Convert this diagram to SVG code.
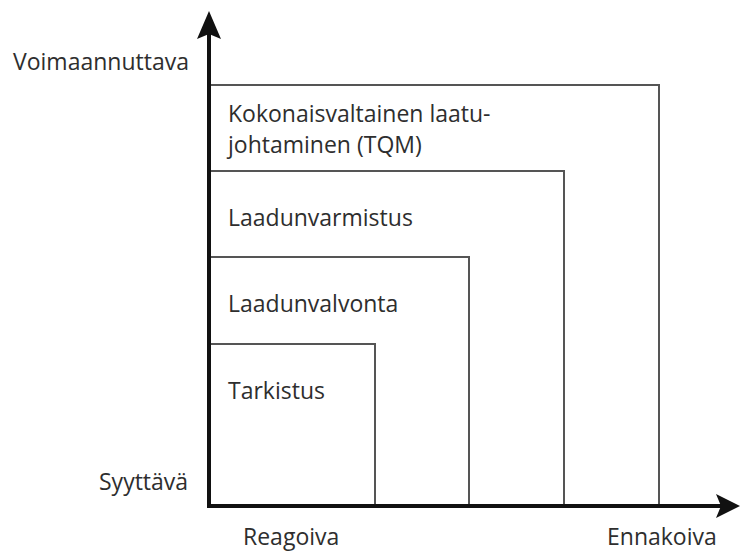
<svg xmlns="http://www.w3.org/2000/svg" width="741" height="554" viewBox="0 0 741 554">
<defs>
<style>
text{font-family:"Open Sans","Noto Sans","Liberation Sans",sans-serif;font-size:23px;fill:#2e2e2e}
.box{fill:none;stroke:#555;stroke-width:2}
.axis{stroke:#111;stroke-width:4;fill:none}
.head{fill:#111}
</style>
</defs>
<rect width="741" height="554" fill="#fff"/>
<g id="tqm"><polyline class="box" points="209,85 659,85 659,506"/>
<text x="228" y="122">Kokonaisvaltainen laatu-</text>
<text x="228" y="153">johtaminen (TQM)</text></g>
<g id="laadunvarmistus"><polyline class="box" points="209,171 564,171 564,506"/>
<text x="228" y="226">Laadunvarmistus</text></g>
<g id="laadunvalvonta"><polyline class="box" points="209,257 469,257 469,506"/>
<text x="228" y="312">Laadunvalvonta</text></g>
<g id="tarkistus"><polyline class="box" points="209,344 375,344 375,506"/>
<text x="228" y="399">Tarkistus</text></g>
<g id="connectors">
<line class="axis" x1="209" y1="30" x2="209" y2="508"/>
<polygon class="head" points="209,11 221,39 209,34 197,39"/>
<line class="axis" x1="207" y1="506" x2="726" y2="506"/>
<polygon class="head" points="740,506 716,494 721,506 716,518"/>
</g>
<g id="labels">
<text x="13" y="70">Voimaannuttava</text>
<text x="99" y="490">Syyttävä</text>
<text x="243" y="545">Reagoiva</text>
<text x="607" y="545">Ennakoiva</text>
</g>
</svg>
